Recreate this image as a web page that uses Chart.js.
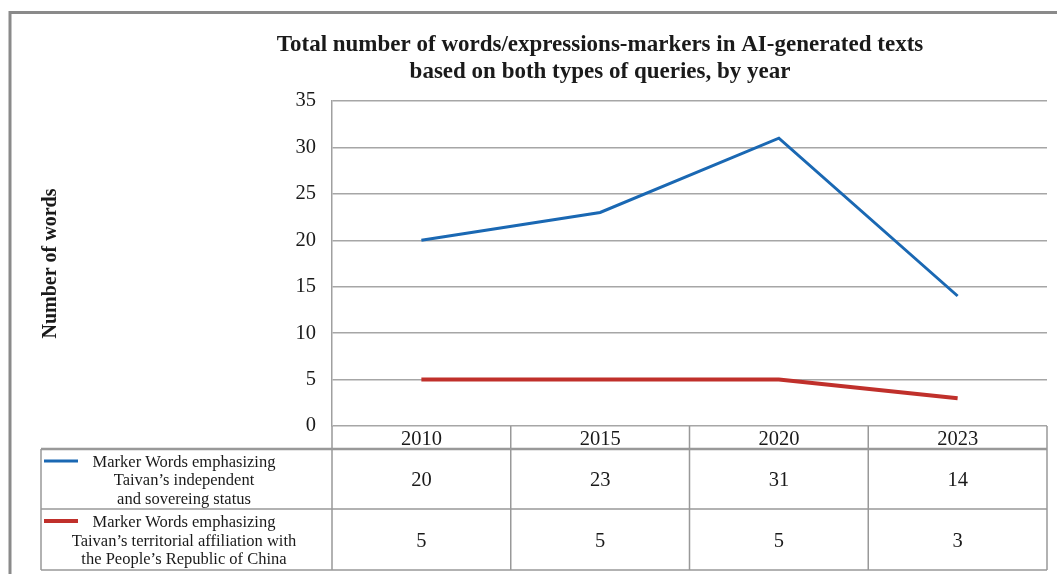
<!DOCTYPE html>
<html><head><meta charset="utf-8">
<script src="https://cdn.jsdelivr.net/npm/chart.js@4/dist/chart.umd.min.js"></script>
<style>html,body{margin:0;padding:0;background:#fff;}#wrap{width:1057px;height:574px;position:relative;}</style>
</head><body><div id="wrap"><canvas id="c" width="1057" height="574"></canvas></div>
<script>
const years = ['2010', '2015', '2020', '2023'];
const independentValues = [20, 23, 31, 14];
const affiliationValues = [5, 5, 5, 3];
const independentLabel = ['Marker Words emphasizing', 'Taivan\u2019s independent', 'and sovereing status'];
const affiliationLabel = ['Marker Words emphasizing', 'Taivan\u2019s territorial affiliation with', 'the People\u2019s Republic of China'];
const titleLines = ['Total number of words/expressions-markers in AI-generated texts', 'based on both types of queries, by year'];
const yTickValues = [0, 5, 10, 15, 20, 25, 30, 35];
const yTitle = 'Number of words';

const SERIF = "'Liberation Serif','DejaVu Serif',serif";
const BLUE = '#1a68b3';
const RED = '#c0302b';
const LINE = '#999999';

const framePlugin = {
  id: 'frame',
  beforeDraw(chart) {
    const ctx = chart.ctx;
    ctx.save();
    ctx.fillStyle = '#fff';
    ctx.fillRect(0, 0, chart.width, chart.height);
    ctx.strokeStyle = '#8a8a8a';
    ctx.lineWidth = 3;
    ctx.beginPath();
    ctx.moveTo(10, chart.height);
    ctx.lineTo(10, 12.5);
    ctx.lineTo(chart.width, 12.5);
    ctx.stroke();
    ctx.restore();
  }
};

const titlePlugin = {
  id: 'customTitle',
  afterDraw(chart) {
    const ctx = chart.ctx;
    ctx.save();
    ctx.fillStyle = '#1a1a1a';
    ctx.font = 'bold 23px ' + SERIF;
    ctx.textAlign = 'center';
    ctx.textBaseline = 'middle';
    ctx.fillText(titleLines[0], 600, 45);
    ctx.fillText(titleLines[1], 600, 72);
    ctx.restore();
  }
};

const tablePlugin = {
  id: 'dataTable',
  afterDraw(chart) {
    const ctx = chart.ctx;
    const xs = chart.scales.x;
    const area = chart.chartArea;
    const n = years.length;
    const half = (xs.getPixelForValue(1) - xs.getPixelForValue(0)) / 2;
    const tableLeft = 41;
    const yHead = area.bottom;
    const y1 = 449, y2 = 509, y3 = 570;
    ctx.save();
    ctx.strokeStyle = LINE;
    ctx.lineWidth = 1.5;
    ctx.beginPath();
    for (let i = 0; i <= n; i++) {
      const x = i < n ? xs.getPixelForValue(i) - half : xs.getPixelForValue(n - 1) + half;
      ctx.moveTo(x, yHead);
      ctx.lineTo(x, y3);
    }
    ctx.moveTo(tableLeft, y1);
    ctx.lineTo(tableLeft, y3);
    ctx.moveTo(tableLeft, y2);
    ctx.lineTo(area.right, y2);
    ctx.moveTo(tableLeft, y3);
    ctx.lineTo(area.right, y3);
    ctx.stroke();
    ctx.lineWidth = 2.5;
    ctx.beginPath();
    ctx.moveTo(tableLeft, y1);
    ctx.lineTo(area.right, y1);
    ctx.stroke();

    const sets = chart.data.datasets;
    const rows = [[y1, y2, independentLabel], [y2, y3, affiliationLabel]];
    ctx.fillStyle = '#1a1a1a';
    rows.forEach((r, ri) => {
      const [top, bot, lines] = r;
      const ds = sets[ri];
      const mid = (top + bot) / 2;
      ctx.strokeStyle = ds.borderColor;
      ctx.lineWidth = ds.borderWidth;
      ctx.beginPath();
      ctx.moveTo(44, top + 12);
      ctx.lineTo(78, top + 12);
      ctx.stroke();
      ctx.font = '16.5px ' + SERIF;
      ctx.textAlign = 'center';
      ctx.textBaseline = 'middle';
      lines.forEach((t, li) => {
        ctx.fillText(t, 184, mid + 2 + (li - 1) * 18.5);
      });
      ctx.font = '20.5px ' + SERIF;
      ds.data.forEach((v, i) => {
        ctx.fillText(String(v), xs.getPixelForValue(i), mid + 2);
      });
    });
    ctx.restore();
  }
};

new Chart(document.getElementById('c'), {
  type: 'line',
  data: {
    labels: years,
    datasets: [
      { label: independentLabel.join(' '), data: independentValues, borderColor: BLUE, backgroundColor: BLUE, borderWidth: 3, pointRadius: 0, tension: 0, fill: false },
      { label: affiliationLabel.join(' '), data: affiliationValues, borderColor: RED, backgroundColor: RED, borderWidth: 4, pointRadius: 0, tension: 0, fill: false }
    ]
  },
  options: {
    responsive: false,
    animation: false,
    devicePixelRatio: 1,
    layout: { padding: { top: 101, right: 10, left: 35, bottom: 0 } },
    plugins: { legend: { display: false }, title: { display: false }, tooltip: { enabled: false } },
    scales: {
      x: {
        type: 'category', offset: true,
        grid: { display: false, drawTicks: false },
        border: { display: false },
        ticks: { font: { family: SERIF, size: 20.5 }, color: '#1a1a1a', padding: 1, maxRotation: 0, autoSkip: false },
        afterFit(s) { s.height = 148; }
      },
      y: {
        min: 0, max: 35,
        afterBuildTicks(s) { s.ticks = yTickValues.map(v => ({ value: v })); },
        grid: { color: '#a6a6a6', lineWidth: 1.5, drawTicks: false },
        border: { display: true, color: '#a0a0a0', width: 1.5 },
        ticks: { font: { family: SERIF, size: 20.5 }, color: '#1a1a1a', padding: 16 },
        title: { display: true, text: yTitle, font: { family: SERIF, size: 20, weight: 'bold' }, color: '#1a1a1a', padding: { top: 4, bottom: 4 } },
        afterFit(s) { s.width = 297; }
      }
    }
  },
  plugins: [framePlugin, titlePlugin, tablePlugin]
});
</script></body></html>
